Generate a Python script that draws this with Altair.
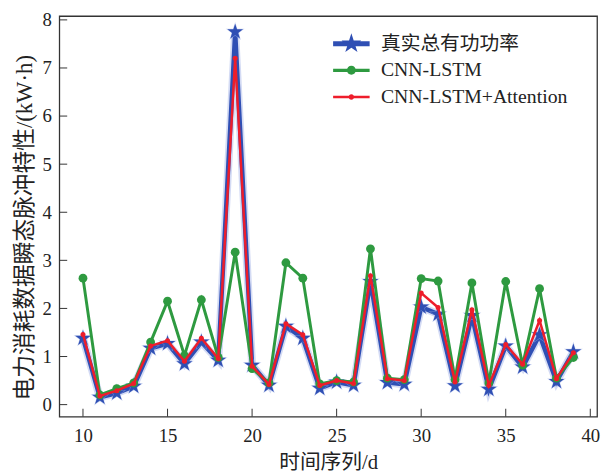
import math
import altair as alt
import pandas as pd

# ---------------- data ----------------
days = list(range(10, 40))
real_power = [1.38, 0.15, 0.24, 0.38, 1.17, 1.27, 0.85, 1.30, 0.92, 7.75,
              0.82, 0.40, 1.63, 1.38, 0.34, 0.47, 0.40, 2.56, 0.46, 0.42,
              2.03, 1.88, 0.39, 1.85, 0.32, 1.22, 0.78, 1.45, 0.48, 1.10]
cnn_lstm = [2.63, 0.20, 0.33, 0.45, 1.30, 2.15, 1.02, 2.18, 0.98, 3.17,
            0.75, 0.45, 2.95, 2.63, 0.43, 0.50, 0.47, 3.24, 0.55, 0.52,
            2.62, 2.57, 0.52, 2.53, 0.45, 2.56, 0.82, 2.41, 0.55, 0.98]
cnn_lstm_att = [1.46, 0.18, 0.29, 0.44, 1.22, 1.33, 0.90, 1.38, 0.96, 7.20,
                0.80, 0.42, 1.68, 1.45, 0.40, 0.50, 0.44, 2.68, 0.54, 0.50,
                2.32, 2.02, 0.47, 1.97, 0.40, 1.25, 0.84, 1.75, 0.54, 1.08]
series_names = ["真实总有功功率", "CNN-LSTM", "CNN-LSTM+Attention"]
y_ticks = [0, 1, 2, 3, 4, 5, 6, 7, 8]
x_ticks = [10, 15, 20, 25, 30, 35, 40]

rows = []
for name, vals in zip(series_names, [real_power, cnn_lstm, cnn_lstm_att]):
    for d, v in zip(days, vals):
        rows.append({"x": d, "y": v, "series": name})
df = pd.DataFrame(rows)

# ---------------- styles ----------------
colors = ["#2f4fb4", "#2e9a40", "#ee1d2b"]
W, H = 545, 406
SERIF = "Liberation Serif, Noto Sans CJK SC"


def star_path(r):
    pts = []
    for k in range(10):
        ang = math.radians(-90 + 36 * k)
        rr = r if k % 2 == 0 else r * 0.382
        pts.append(f"{rr * math.cos(ang):.4f},{rr * math.sin(ang):.4f}")
    return "M" + "L".join(pts) + "Z"


def circle_path(r):
    return f"M{r},0A{r},{r} 0 1,1 {-r},0A{r},{r} 0 1,1 {r},0Z"


def bar_path(hl, ht):
    return f"M{-hl},{-ht}L{hl},{-ht}L{hl},{ht}L{-hl},{ht}Z"


# legend symbols: unit = 10 px (symbolSize 400)
legend_shapes = [
    bar_path(1.85, 0.25) + star_path(1.05),
    bar_path(1.85, 0.16) + circle_path(0.45),
    bar_path(1.85, 0.13) + circle_path(0.28),
]
point_shapes = [star_path(1.0), "circle", "circle"]
point_sizes = [280, 80, 26]
line_widths = [4.5, 3, 2.5]

xs = alt.Scale(domain=[8.6, 40.4], nice=False, zero=False)
ys = alt.Scale(domain=[-0.25, 8.08], nice=False, zero=False)

x_axis = alt.Axis(values=x_ticks, title="时间序列/d", ticks=False, domain=False,
                  grid=False, labelFont=SERIF, labelFontSize=19, labelPadding=10,
                  labelColor="#222", titleFont=SERIF, titleFontSize=21,
                  titleFontWeight="normal", titlePadding=7, titleColor="#222",
                  format="d")
y_axis = alt.Axis(values=y_ticks, title="电力消耗数据瞬态脉冲特性/(kW·h)", ticks=False,
                  domain=False, grid=False, labelFont=SERIF, labelFontSize=19,
                  labelPadding=8, labelColor="#222", titleFont=SERIF,
                  titleFontSize=23, titleFontWeight="normal", titlePadding=6,
                  titleColor="#222", titleY=214, format="d")

X = alt.X("x:Q", scale=xs, axis=x_axis)
Y = alt.Y("y:Q", scale=ys, axis=y_axis)

layers = []
# blue glow
blue_df = alt.Chart(df).transform_filter(alt.datum.series == series_names[0])
layers.append(blue_df.mark_line(strokeWidth=8, color="#9fb0e6", opacity=0.45).encode(x=X, y=Y))
for i, name in enumerate(series_names):
    base = alt.Chart(df).transform_filter(alt.datum.series == name)
    layers.append(base.mark_line(strokeWidth=line_widths[i], color=colors[i]).encode(x=X, y=Y))
    if i == 0:
        layers.append(base.mark_point(filled=True, shape=point_shapes[i], size=point_sizes[i] + 120,
                                      color="#9fb0e6", opacity=0.55).encode(x=X, y=Y))
    layers.append(base.mark_point(filled=True, shape=point_shapes[i], size=point_sizes[i],
                                  color=colors[i], opacity=1).encode(x=X, y=Y))

legend = alt.Legend(title=None, orient="none", legendX=286, legendY=18, symbolSize=400,
                    labelFont=SERIF, labelFontSize=20, labelOffset=20, labelColor="#222",
                    labelLimit=400, padding=0, rowPadding=7, symbolStrokeWidth=0)
legend_layer = alt.Chart(df).transform_filter("false").mark_point(filled=True, opacity=1).encode(
    x=X, y=Y,
    color=alt.Color("series:N", scale=alt.Scale(domain=series_names, range=colors), legend=legend),
    shape=alt.Shape("series:N", scale=alt.Scale(domain=series_names, range=legend_shapes), legend=legend),
)
layers.append(legend_layer)

# inward ticks
ytick_layer = alt.Chart(pd.DataFrame({"y": y_ticks})).mark_rule(color="#333", strokeWidth=1).encode(
    y=Y, x=alt.value(0), x2=alt.value(8))
xtick_layer = alt.Chart(pd.DataFrame({"x": x_ticks})).mark_rule(color="#333", strokeWidth=1).encode(
    x=X, y=alt.value(H - 8), y2=alt.value(H))
layers += [ytick_layer, xtick_layer]

chart = alt.layer(*layers).properties(
    width=W, height=H,
    autosize=alt.AutoSizeParams(type="none"),
    padding={"left": 52, "top": 5, "right": 4, "bottom": 56},
    background="white",
).configure_view(stroke="#333", strokeWidth=1.3)

chart.save("out.html", embed_options={"renderer": "svg", "actions": False})
